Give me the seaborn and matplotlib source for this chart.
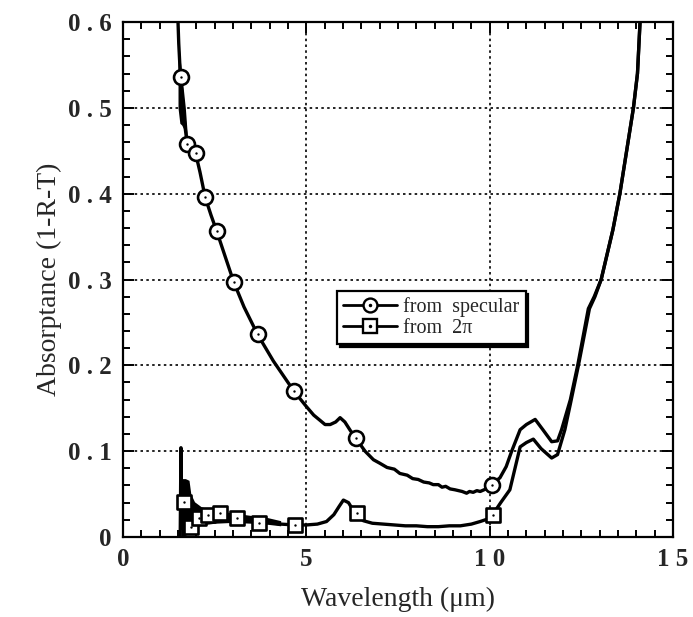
import numpy as np
import pandas as pd
import matplotlib
matplotlib.use("Agg")
import matplotlib.pyplot as plt
import seaborn as sns
from matplotlib.lines import Line2D
from matplotlib.ticker import FixedLocator, FixedFormatter, MultipleLocator

# ---------------- data ----------------
spec_x = [1.50, 1.52, 1.55, 1.57, 1.60, 1.63, 1.66, 1.70, 1.75, 1.85, 1.98, 2.10, 2.24, 2.40,
          2.55, 2.80, 3.02, 3.30, 3.67, 4.10, 4.66, 5.00, 5.20, 5.37, 5.51, 5.65, 5.80, 5.92,
          6.05, 6.20, 6.35, 6.60, 6.83, 7.00, 7.20, 7.40, 7.55, 7.75, 7.90, 8.05, 8.20, 8.35,
          8.46, 8.60, 8.70, 8.80, 8.92, 9.05, 9.15, 9.25, 9.37, 9.45, 9.55, 9.65, 9.74, 9.90,
          10.05, 10.28, 10.45, 10.60, 10.83, 11.00, 11.24, 11.45, 11.69,
          11.85, 11.96, 12.20, 12.40, 12.69, 12.85, 13.04, 13.36, 13.55, 13.92, 14.03, 14.10]
spec_y = [0.600, 0.575, 0.550, 0.536, 0.520, 0.505, 0.490, 0.475, 0.458, 0.452, 0.447, 0.425, 0.396, 0.375,
          0.357, 0.325, 0.297, 0.268, 0.236, 0.205, 0.170, 0.152, 0.142, 0.136, 0.131, 0.131, 0.134, 0.139,
          0.134, 0.124, 0.115, 0.100, 0.090, 0.086, 0.081, 0.079, 0.074, 0.072, 0.068, 0.067, 0.064, 0.063,
          0.061, 0.061, 0.058, 0.059, 0.056, 0.055, 0.054, 0.053, 0.051, 0.053, 0.052, 0.054, 0.053, 0.056,
          0.061, 0.069, 0.082, 0.100, 0.125, 0.131, 0.137, 0.125, 0.111,
          0.112, 0.125, 0.160, 0.200, 0.266, 0.280, 0.300, 0.358, 0.400, 0.500, 0.540, 0.600]

tp_x = [1.56, 1.58, 1.60, 1.62, 1.64, 1.67, 1.70, 1.75, 1.80, 1.85, 1.90, 1.95, 2.00, 2.07,
        2.15, 2.25, 2.33, 2.45, 2.55, 2.65, 2.80, 2.95, 3.10, 3.30, 3.50, 3.72, 4.00, 4.30,
        4.69, 5.00, 5.30, 5.55, 5.75, 5.90, 6.01, 6.15, 6.25, 6.37, 6.55, 6.80, 7.10, 7.40,
        7.70, 8.00, 8.30, 8.60, 8.90, 9.20, 9.50, 9.74, 9.95, 10.08, 10.30, 10.55, 10.83, 11.00,
        11.19, 11.40, 11.69, 11.85, 12.05, 12.20, 12.42, 12.72, 12.87, 13.04, 13.36, 13.55,
        13.92, 14.03, 14.10]
tp_y = [0.000, 0.104, 0.010, 0.060, 0.015, 0.041, 0.030, 0.020, 0.030, 0.012, 0.030, 0.020, 0.028, 0.022,
        0.026, 0.020, 0.026, 0.022, 0.024, 0.028, 0.020, 0.022, 0.022, 0.018, 0.019, 0.016, 0.017, 0.015,
        0.014, 0.014, 0.015, 0.018, 0.026, 0.036, 0.043, 0.040, 0.033, 0.028, 0.019, 0.016, 0.015, 0.014,
        0.013, 0.013, 0.012, 0.012, 0.013, 0.013, 0.015, 0.018, 0.021, 0.026, 0.040, 0.055, 0.105, 0.110,
        0.114, 0.103, 0.092, 0.096, 0.125, 0.155, 0.200, 0.266, 0.280, 0.300, 0.358, 0.400,
        0.500, 0.540, 0.600]

# noisy bands near the start of the spectra
spec_band_x = [1.50, 1.55, 1.60, 1.65, 1.70, 1.76]
spec_band_lo = [0.500, 0.482, 0.480, 0.476, 0.468, 0.455]
spec_band_hi = [0.600, 0.560, 0.540, 0.520, 0.500, 0.465]

tp_band_x = [1.58, 1.62, 1.70, 1.80, 1.85, 1.95, 2.14, 2.50, 3.00, 3.50, 3.90, 4.30]
tp_band_lo = [0.000, 0.000, 0.002, 0.004, 0.006, 0.010, 0.014, 0.016, 0.017, 0.016, 0.015, 0.013]
tp_band_hi = [0.070, 0.068, 0.068, 0.066, 0.050, 0.041, 0.035, 0.031, 0.028, 0.025, 0.023, 0.019]

# marker positions
spec_mx = [1.57, 1.75, 1.98, 2.24, 2.55, 3.02, 3.67, 4.66, 6.35, 10.05]
spec_my = [0.536, 0.458, 0.447, 0.396, 0.357, 0.297, 0.236, 0.170, 0.115, 0.061]
tp_mx = [1.67, 1.85, 2.07, 2.33, 2.65, 3.10, 3.72, 4.69, 6.37, 10.08]
tp_my = [0.041, 0.012, 0.022, 0.026, 0.028, 0.022, 0.016, 0.014, 0.028, 0.026]

series_labels = ["from  specular", "from  2\u03c0"]
x_ticks = [0, 5, 10, 15]
x_tick_labels = ["0", "5", "1 0", "1 5"]
y_ticks = [0, 0.1, 0.2, 0.3, 0.4, 0.5, 0.6]
y_tick_labels = ["0", "0 . 1", "0 . 2", "0 . 3", "0 . 4", "0 . 5", "0 . 6"]

# ---------------- plot ----------------
sns.set_theme(style="white")
plt.rcParams['font.family'] = ['Liberation Serif', 'DejaVu Serif']

fig = plt.figure(figsize=(6.93, 6.17), dpi=100)
ax = fig.add_axes([0.1775, 0.1297, 0.7937, 0.8346])

df_spec = pd.DataFrame({"x": spec_x, "y": spec_y})
df_tp = pd.DataFrame({"x": tp_x, "y": tp_y})

ax.fill_between(spec_band_x, spec_band_lo, spec_band_hi, color="black", lw=0, zorder=2)
ax.fill_between(tp_band_x, tp_band_lo, tp_band_hi, color="black", lw=0, zorder=2)

sns.lineplot(data=df_spec, x="x", y="y", ax=ax, color="black", linewidth=2.4, sort=False,
             estimator=None, zorder=3)
sns.lineplot(data=df_tp, x="x", y="y", ax=ax, color="black", linewidth=2.4, sort=False,
             estimator=None, zorder=3)

sns.scatterplot(x=spec_mx, y=spec_my, ax=ax, marker="o", s=115, facecolor="white",
                edgecolor="black", linewidth=1.9, zorder=5)
sns.scatterplot(x=tp_mx, y=tp_my, ax=ax, marker="s", s=105, facecolor="white",
                edgecolor="black", linewidth=1.9, zorder=5)
sns.scatterplot(x=spec_mx + tp_mx, y=spec_my + tp_my, ax=ax, marker="o", s=3,
                color="black", linewidth=0, zorder=6)

ax.set_xlim(0, 15)
ax.set_ylim(0, 0.6)

ax.grid(True, which="major", color="black", linestyle=(0, (1.5, 2.0)), linewidth=1.2)
ax.xaxis.set_major_locator(FixedLocator(x_ticks))
ax.xaxis.set_major_formatter(FixedFormatter(x_tick_labels))
ax.yaxis.set_major_locator(FixedLocator(y_ticks))
ax.yaxis.set_major_formatter(FixedFormatter(y_tick_labels))
ax.xaxis.set_minor_locator(MultipleLocator(0.5))
ax.yaxis.set_minor_locator(MultipleLocator(0.02))
ax.tick_params(which="both", direction="in", top=True, right=True, bottom=True, left=True,
               color="black", width=1.4)
ax.tick_params(which="major", length=8, pad=8)
ax.tick_params(which="minor", length=5)
for lab in ax.get_xticklabels() + ax.get_yticklabels():
    lab.set_fontweight("bold")
    lab.set_fontsize(18)
for sp in ax.spines.values():
    sp.set_visible(True)
    sp.set_color("black")
    sp.set_linewidth(1.6)

ax.set_xlabel("Wavelength (\u03bcm)", fontsize=20, labelpad=11)
ax.set_ylabel("Absorptance (1-R-T)", fontsize=20, labelpad=4)

h1 = (Line2D([], [], color="black", lw=2.0, marker="o", markersize=10, mfc="white", mec="black", mew=1.7),
      Line2D([], [], ls="none", marker="o", markersize=1.5, color="black"))
h2 = (Line2D([], [], color="black", lw=2.0, marker="s", markersize=9.5, mfc="white", mec="black", mew=1.7),
      Line2D([], [], ls="none", marker="o", markersize=1.5, color="black"))
leg = ax.legend([h1, h2], series_labels, loc="upper left", bbox_to_anchor=(0.389, 0.478),
                fontsize=14.5, frameon=True, fancybox=False, handlelength=2.7, handletextpad=0.3,
                borderpad=0.3, labelspacing=0.1, borderaxespad=0,
                shadow={"color": "black", "alpha": 1})
leg.get_frame().set_edgecolor("black")
leg.get_frame().set_linewidth(1.6)
leg.set_zorder(10)

fig.savefig("out.png", dpi=100)
